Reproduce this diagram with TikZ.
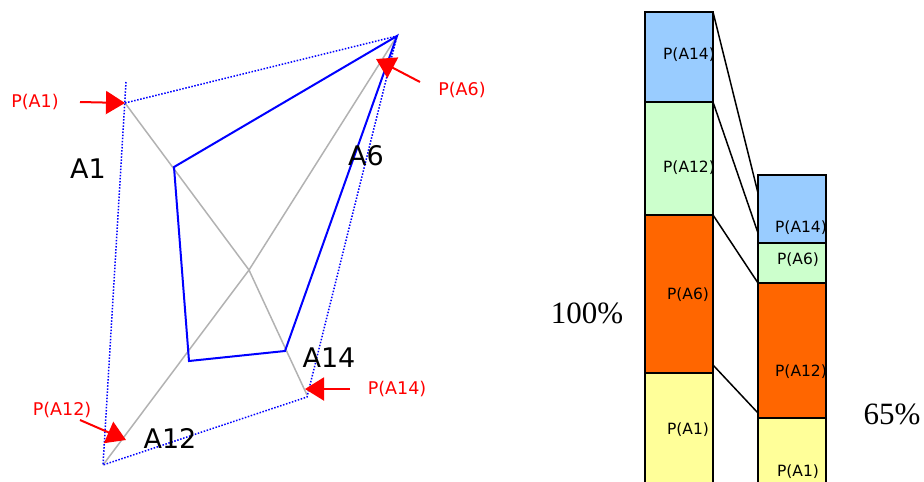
\documentclass[tikz,border=0pt]{standalone}
\usepackage{fontspec}
\setmainfont{DejaVu Sans}
\newfontfamily\pctfont{Liberation Serif}
\usetikzlibrary{arrows.meta}
\definecolor{barblue}{HTML}{99CCFF}
\definecolor{bargreen}{HTML}{CCFFCC}
\definecolor{barorange}{HTML}{FF6600}
\definecolor{baryellow}{HTML}{FFFF99}
\definecolor{axisgray}{HTML}{B2B2B2}
\begin{document}
\begin{tikzpicture}[x=1pt,y=-1pt,
  dotline/.style={blue, line width=1.5pt, dash pattern=on 1.5pt off 1.6pt},
  grayline/.style={axisgray, line width=1.5pt},
  blueline/.style={blue, line width=2pt, line join=miter},
  redarrow/.style={red, line width=2pt, -{Triangle[length=19pt,width=23pt]}},
  redlabel/.style={red, font=\fontsize{17.5}{20}\selectfont, inner sep=0pt},
  axlabel/.style={black, font=\fontsize{27}{31}\selectfont, inner sep=0pt},
  seg/.style={draw=black, line width=1.5pt, minimum width=68pt, inner sep=0pt, outer sep=0pt},
  seglabel/.style={black, font=\fontsize{15.5}{18}\selectfont, inner sep=0pt},
  pct/.style={black, font=\pctfont\fontsize{31}{35}\selectfont, inner sep=0pt},
  link/.style={black, line width=1.5pt}]
\path[use as bounding box] (0,0) rectangle (924,482);
\clip (0,0) rectangle (924,482);
% ---------- left diagram ----------
\coordinate (c) at (249,270);
\coordinate (p1) at (125,103);
\coordinate (p6) at (397,36);
\coordinate (p14) at (307,397);
\coordinate (p12) at (103,465);
\coordinate (top1) at (126,82);
\coordinate (g14) at (307,395);
\coordinate (b1) at (174,167);
\coordinate (b12) at (189,361);
\coordinate (b14) at (285,351);
\draw[grayline] (c) -- (p1);
\draw[grayline] (c) -- (p6);
\draw[grayline] (c) -- (g14);
\draw[grayline] (c) -- (p12);
\draw[dotline] (top1) -- (p12) -- (p14) -- (p6) -- (p1);
\draw[blueline] (p6) -- (b1) -- (b12) -- (b14) -- cycle;
% axis labels
\node[axlabel] (lA1) at (88,169) {A1};
\node[axlabel] (lA6) at (366,156) {A6};
\node[axlabel] (lA14) at (329,358) {A14};
\node[axlabel] (lA12) at (170,438) {A12};
% red pointers
\node[redlabel] (rA1) at (35,102) {P(A1)};
\node[redlabel] (rA6) at (462,90) {P(A6)};
\node[redlabel] (rA14) at (397,389) {P(A14)};
\node[redlabel] (rA12) at (62,410) {P(A12)};
\coordinate (t1) at (80,102);
\coordinate (t6) at (420,82);
\coordinate (h6) at (376,59);
\coordinate (t14) at (350,389);
\coordinate (h14) at (305,389);
\coordinate (t12) at (80,420);
\coordinate (h12) at (126,440);
\draw[redarrow] (t1) -- (p1);
\draw[redarrow] (t6) -- (h6);
\draw[redarrow] (t14) -- (h14);
\draw[redarrow] (t12) -- (h12);
% ---------- bars ----------
\node[seg, fill=barblue,   minimum height=90pt]  (L14) at (679,57) {};
\node[seg, fill=bargreen,  minimum height=113pt] (L12) at (679,158.5) {};
\node[seg, fill=barorange, minimum height=158pt] (L6)  at (679,294) {};
\node[seg, fill=baryellow, minimum height=117pt] (L1)  at (679,431.5) {};
\node[seg, fill=barblue,   minimum height=68pt]  (R14) at (792,209) {};
\node[seg, fill=bargreen,  minimum height=40pt]  (R6)  at (792,263) {};
\node[seg, fill=barorange, minimum height=135pt] (R12) at (792,350.5) {};
\node[seg, fill=baryellow, minimum height=72pt]  (R1)  at (792,454) {};
\node[seglabel] (sL14) at (689,55) {P(A14)};
\node[seglabel] (sL12) at (689,168) {P(A12)};
\node[seglabel] (sL6)  at (688,295) {P(A6)};
\node[seglabel] (sL1)  at (688,430) {P(A1)};
\node[seglabel] (sR14) at (801,228) {P(A14)};
\node[seglabel] (sR6)  at (798,260) {P(A6)};
\node[seglabel] (sR12) at (801,372) {P(A12)};
\node[seglabel] (sR1)  at (798,472) {P(A1)};
\coordinate (e1) at (758,193);
\coordinate (e2) at (758,233);
\coordinate (s4) at (713,365);
\coordinate (e4) at (758,413);
\draw[link] (L14.north east) -- (e1);
\draw[link] (L12.north east) -- (e2);
\draw[link] (L6.north east) -- (R12.north west);
\draw[link] (s4) -- (e4);
\node[pct] (c100) at (587,313) {100\%};
\node[pct] (c65) at (892,414) {65\%};
\end{tikzpicture}
\end{document}
